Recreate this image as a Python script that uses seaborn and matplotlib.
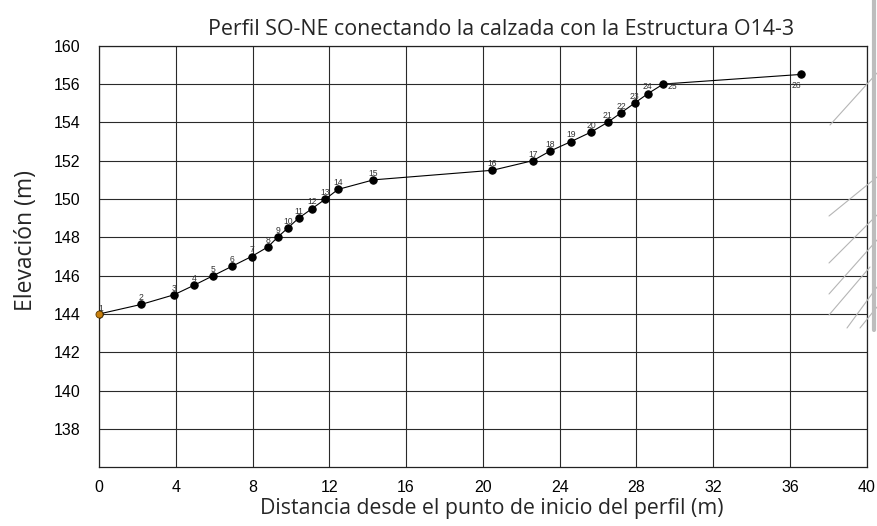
import matplotlib
matplotlib.use("Agg")
import matplotlib.pyplot as plt
import seaborn as sns
import pandas as pd
from matplotlib.lines import Line2D

# Profile points (distance from start, elevation)
punto = list(range(1, 27))
distancia = [0, 2.2, 3.9, 4.95, 5.95, 6.95, 7.95, 8.8, 9.3, 9.85, 10.4, 11.1, 11.8,
             12.45, 14.3, 20.5, 22.6, 23.5, 24.6, 25.65, 26.5, 27.2, 27.9, 28.6, 29.4, 36.55]
elevacion = [144, 144.5, 145, 145.5, 146, 146.5, 147, 147.5, 148, 148.5, 149, 149.5, 150,
             150.5, 151, 151.5, 152, 152.5, 153, 153.5, 154, 154.5, 155, 155.5, 156, 156.5]

x_ticks = [0, 4, 8, 12, 16, 20, 24, 28, 32, 36, 40]
y_ticks = [138, 140, 142, 144, 146, 148, 150, 152, 154, 156, 158]
y_tick_labels = ["138", "140", "142", "144", "146", "148", "150", "152", "154", "156", "160"]

df = pd.DataFrame({"Punto": punto, "Distancia": distancia, "Elevacion": elevacion})

sns.set_style("white")
plt.rcParams['font.family'] = ['Liberation Sans', 'DejaVu Sans']
label_font = ["Open Sans", "DejaVu Sans"]

fig = plt.figure(figsize=(8.77, 5.26), dpi=100)
ax = fig.add_axes([0.1129, 0.1116, 0.8754, 0.8015])

sns.lineplot(data=df, x="Distancia", y="Elevacion", color="black", linewidth=0.8,
             marker="o", markersize=5.3, markeredgecolor="black", ax=ax, zorder=3)
sns.scatterplot(data=df.iloc[:1], x="Distancia", y="Elevacion", color="#c8800f",
                edgecolor="#5a3a00", s=26, linewidth=0.6, ax=ax, zorder=4, clip_on=False)

# point labels
for p, xv, yv in zip(punto, distancia, elevacion):
    off = (0, 4.8)
    if p == 1:
        off = (1.5, 4.3)
    elif p == 25:
        off = (6.5, -2)
    elif p == 26:
        off = (-3, -8)
    ax.annotate(str(p), (xv, yv), xytext=off, textcoords="offset points",
                ha="center", va="center", fontsize=6.2, color="#333333", zorder=5)

ax.set_xlim(0, 40)
ax.set_ylim(136, 158)
ax.set_xticks(x_ticks)
ax.set_yticks(y_ticks)
ax.set_yticklabels(y_tick_labels)
ax.tick_params(length=0, labelsize=11.5, colors="black")
ax.tick_params(axis="y", pad=13.5)
ax.tick_params(axis="x", pad=9.5)
ax.grid(True, color="#2a2a2a", linewidth=0.8)
for s in ax.spines.values():
    s.set_color("#222222")
    s.set_linewidth(0.9)

ax.set_xlabel("Distancia desde el punto de inicio del perfil (m)", fontsize=15.3,
              family=label_font)
ax.xaxis.set_label_coords(0.512, -0.074)
ax.set_ylabel("Elevación (m)", fontsize=16.5, family=label_font)
ax.yaxis.set_label_coords(-0.08, 0.539)
ax.set_title("Perfil SO-NE conectando la calzada con la Estructura O14-3", fontsize=15.4,
             family=label_font, x=0.524, pad=8)

# leftover drawing fragments on the right edge of the scan
W, H = 877, 526
frag = [((830, 125), (877, 73)), ((829, 216), (877, 177)), ((829, 263), (877, 215)),
        ((829, 294), (877, 240)), ((829, 315), (870, 267)), ((847, 328), (877, 287)),
        ((860, 328), (877, 307))]
for (x0, y0), (x1, y1) in frag:
    fig.add_artist(Line2D([x0 / W, x1 / W], [1 - y0 / H, 1 - y1 / H],
                          color="#b5b5b5", linewidth=0.8))
fig.add_artist(Line2D([874 / W, 874 / W], [1.0, 1 - 330 / H], color="#bdbdbd", linewidth=3))

fig.savefig("out.png", dpi=100)
